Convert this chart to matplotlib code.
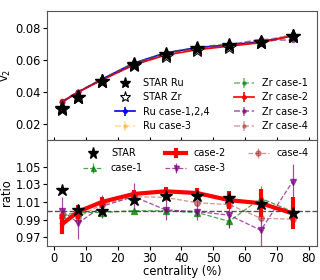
import matplotlib
matplotlib.use("Agg")
import matplotlib.pyplot as plt
import numpy as np

cent = [2.5, 7.5, 15, 25, 35, 45, 55, 65, 75]

# top panel: v2
star_ru = [0.0296, 0.0369, 0.0467, 0.0571, 0.0634, 0.0670, 0.0692, 0.0712, 0.0748]
star_zr = [0.0289, 0.0368, 0.0467, 0.0564, 0.0623, 0.0660, 0.0681, 0.0707, 0.0750]
ru_c124 = [0.0335, 0.0397, 0.0478, 0.0578, 0.0642, 0.0675, 0.0692, 0.0712, 0.0748]
ru_c3 = [0.0335, 0.0395, 0.0477, 0.0576, 0.0640, 0.0672, 0.0690, 0.0710, 0.0745]
zr_c1 = [0.0337, 0.0398, 0.0479, 0.0578, 0.0642, 0.0676, 0.0700, 0.0702, 0.0749]
zr_c2 = [0.0340, 0.0397, 0.0473, 0.0567, 0.0628, 0.0662, 0.0684, 0.0706, 0.0750]
zr_c3 = [0.0335, 0.0400, 0.0475, 0.0567, 0.0639, 0.0673, 0.0693, 0.0726, 0.0721]
zr_c4 = [0.0337, 0.0400, 0.0475, 0.0569, 0.0633, 0.0669, 0.0687, 0.0718, 0.0755]

# bottom panel: ratio
r_star = [1.024, 1.001, 1.000, 1.012, 1.017, 1.0165, 1.0145, 1.0075, 0.997]
r_c1 = [0.995, 0.998, 0.998, 1.000, 1.000, 0.998, 0.988, 1.014, 0.999]
r_c1_err = [0.004, 0.003, 0.003, 0.003, 0.003, 0.004, 0.006, 0.014, 0.006]
r_c2 = [0.985, 0.999, 1.010, 1.019, 1.022, 1.020, 1.012, 1.0085, 0.997]
r_c2_err = [0.011, 0.008, 0.006, 0.005, 0.005, 0.006, 0.010, 0.016, 0.018]
r_c3 = [1.000, 0.986, 1.005, 1.016, 1.001, 0.999, 0.995, 0.978, 1.033]
r_c3_err = [0.015, 0.018, 0.013, 0.015, 0.012, 0.010, 0.015, 0.020, 0.020]
r_c4 = [0.995, 0.993, 1.007, 1.016, 1.015, 1.009, 1.007, 0.9915, 0.9905]
r_c4_err = [0.004, 0.004, 0.004, 0.004, 0.004, 0.004, 0.005, 0.006, 0.006]

fs = 8.3
plt.rcParams['font.size'] = fs
plt.rcParams['xtick.major.size'] = 3
plt.rcParams['ytick.major.size'] = 3
plt.rcParams['xtick.major.pad'] = 1.0
plt.rcParams['ytick.major.pad'] = 1.5
fig = plt.figure(figsize=(3.2, 2.8), dpi=100)
ax1 = fig.add_axes([0.148, 0.5, 0.842, 0.462])
ax2 = fig.add_axes([0.148, 0.121, 0.842, 0.379])

ms_line = 3
ax1.errorbar(cent, ru_c124, yerr=0.0003, color='blue', marker='o', ms=ms_line, lw=1.2, label='Ru case-1,2,4')
ax1.errorbar(cent, ru_c3, yerr=0.0003, color='orange', marker='o', ms=ms_line, lw=1.2, ls='--', alpha=0.35, label='Ru case-3')
ax1.errorbar(cent, zr_c1, yerr=0.0003, color='green', marker='o', ms=ms_line, lw=1.2, ls='--', alpha=0.5, label='Zr case-1')
ax1.errorbar(cent, zr_c2, yerr=0.0003, color='red', marker='o', ms=ms_line, lw=1.2, label='Zr case-2')
ax1.errorbar(cent, zr_c3, yerr=0.0003, color='purple', marker='o', ms=ms_line, lw=1.2, ls='--', alpha=0.6, label='Zr case-3')
ax1.errorbar(cent, zr_c4, yerr=0.0003, color='brown', marker='o', ms=ms_line, lw=1.2, ls='--', alpha=0.4, label='Zr case-4')
ax1.plot(cent, star_zr, ls='none', marker='*', ms=10, mfc='white', mec='black', mew=0.8, label='STAR Zr', zorder=5)
ax1.plot(cent, star_ru, ls='none', marker='*', ms=10, color='black', label='STAR Ru', zorder=6)

h, l = ax1.get_legend_handles_labels()
order = ['STAR Ru', 'STAR Zr', 'Ru case-1,2,4', 'Ru case-3', 'Zr case-1', 'Zr case-2', 'Zr case-3', 'Zr case-4']
hd = dict(zip(l, h))
ax1.legend([hd[k] for k in order], order, ncol=2, frameon=False, fontsize=7,
           loc='lower right', bbox_to_anchor=(1.0, 0.0), labelspacing=0.45,
           handlelength=2.1, handletextpad=0.8, columnspacing=2.5, borderaxespad=0.5,
           markerscale=0.8)

ax1.set_xlim(-2.2, 82.6)
ax1.set_ylim(0.0098, 0.0906)
ax1.set_yticks([0.02, 0.04, 0.06, 0.08])
ax1.set_xticks(range(0, 81, 10))
ax1.tick_params(axis='x', direction='inout', length=5, labelbottom=False)
ax1.set_ylabel('v$_2$', fontsize=fs, labelpad=2)

# bottom
ax2.axhline(1.0, color='#555555', ls='--', lw=1.0, zorder=1)
ax2.errorbar(cent, r_c1, yerr=r_c1_err, color='green', marker='^', ms=4, lw=0.9, ls='--', alpha=0.7, label='case-1')
ax2.errorbar(cent, r_c2, yerr=r_c2_err, color='red', marker='o', ms=2, lw=3, elinewidth=3, label='case-2', zorder=4)
ax2.errorbar(cent, r_c3, yerr=r_c3_err, color='purple', marker='v', ms=4, lw=0.9, ls='--', alpha=0.7, label='case-3')
ax2.errorbar(cent, r_c4, yerr=r_c4_err, color='brown', marker='o', ms=4, lw=0.9, ls='--', alpha=0.5, label='case-4')
ax2.plot(cent, r_star, ls='none', marker='*', ms=9, color='black', label='STAR', zorder=6)

h, l = ax2.get_legend_handles_labels()
hd = dict(zip(l, h))
order2 = ['STAR', 'case-1', 'case-2', 'case-3', 'case-4']
ax2.legend([hd[k] for k in order2], order2, ncol=3, frameon=False, fontsize=7,
           loc='upper right', bbox_to_anchor=(1.0, 1.0), labelspacing=0.5,
           handlelength=2.1, handletextpad=0.8, columnspacing=2.3, borderaxespad=0.45,
           markerscale=0.9)

ax2.set_xlim(-2.2, 82.6)
ax2.set_ylim(0.96, 1.08)
ax2.set_yticks([0.97, 0.99, 1.01, 1.03, 1.05])
ax2.set_xticks(range(0, 81, 10))
ax2.set_xlabel('centrality (%)', fontsize=fs, labelpad=0.5)
ax2.set_ylabel('ratio', fontsize=fs, labelpad=2)

for ax in (ax1, ax2):
    for s in ax.spines.values():
        s.set_color('#555555')

fig.savefig('out.png', dpi=100)
